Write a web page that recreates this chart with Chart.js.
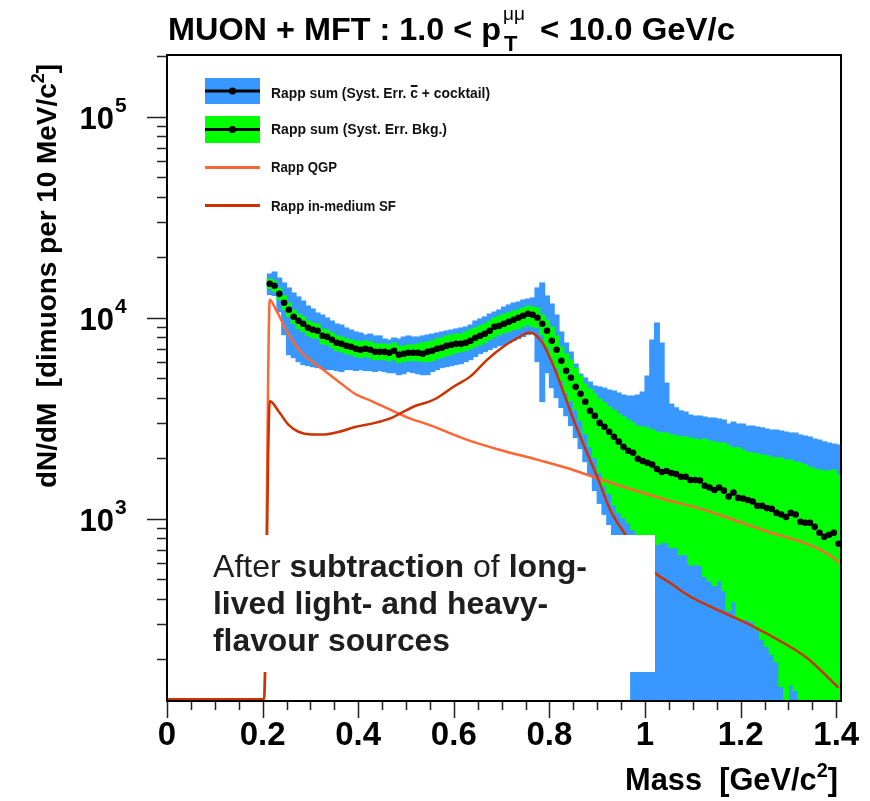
<!DOCTYPE html>
<html lang="en">
<head>
<meta charset="UTF-8">
<title>Dimuon mass spectrum - Rapp</title>
<script src="https://cdn.jsdelivr.net/npm/chart.js"></script>
<style>
  body { margin: 0; padding: 0; background: #fff; }
  #massChart { display: block; }
</style>
</head>
<body>
<canvas id="massChart" width="870" height="801"></canvas>
<script>
// histogram binning: 10 MeV/c^2 bins starting at 0.21 GeV/c^2
const binStart = 0.21;
const binWidth = 0.01;

// Rapp sum (black points), one value per bin
const rappSum = [
  14760, 14430, 13160, 11880, 10960, 10120, 9660, 9340, 8920, 8720,
  8620, 8140, 8040, 7770, 7510, 7420, 7250, 7170, 7010, 6930,
  7010, 6930, 6770, 6770, 6770, 6700, 6850, 6550, 6620, 6700,
  6700, 6700, 6620, 6770, 6850, 7010, 7090, 7250, 7340, 7420,
  7420, 7510, 7690, 7950, 8140, 8330, 8620, 9020, 9120, 9340,
  9550, 9770, 10000, 10230, 10470, 10350, 10000, 9340, 8620, 7690,
  6930, 6110, 5450, 5030, 4540, 4190, 3820, 3450, 3250, 3000,
  2870, 2710, 2560, 2420, 2280, 2180, 2130, 1990, 1940, 1900,
  1860, 1770, 1710, 1730, 1690, 1670, 1620, 1620, 1560, 1560,
  1550, 1460, 1430, 1390, 1430, 1380, 1290, 1350, 1270, 1260,
  1240, 1220, 1160, 1160, 1130, 1120, 1070, 1050, 1020, 1070,
  1050, 966, 955, 955, 912, 852, 814, 833, 852, 751
];

// syst. err. background (green band)
const bkgErrHigh = [
  15630, 15280, 14110, 12870, 11870, 10960, 10470, 10120, 9660, 9440,
  9340, 8820, 8715, 8420, 8140, 8040, 7860, 7771, 7680, 7600,
  7680, 7600, 7420, 7420, 7420, 7340, 7510, 7250, 7250, 7340,
  7340, 7420, 7510, 7600, 7680, 7860, 7950, 8140, 8230, 8320,
  8320, 8520, 8715, 8920, 9130, 9340, 9660, 10000, 10230, 10470,
  10590, 10840, 10960, 11210, 11470, 11340, 11210, 10350, 9774, 9020,
  8140, 7170, 6620, 6180, 5640, 5150, 4690, 4430, 4190, 3950,
  3780, 3610, 3485, 3330, 3220, 3108, 3000, 2900, 2870, 2840,
  2772, 2710, 2680, 2680, 2620, 2590, 2560, 2560, 2530, 2500,
  2472, 2500, 2440, 2420, 2390, 2390, 2310, 2260, 2260, 2204,
  2150, 2130, 2110, 2080, 2060, 2030, 2010, 2010, 1966, 1966,
  1920, 1900, 1860, 1810, 1770, 1753, 1730, 1730, 1753, 1660
];
const bkgErrLow = [
  13950, 13480, 12290, 10960, 10120, 9340, 8820, 8520, 8140, 7950,
  7860, 7420, 7340, 7090, 6850, 6770, 6620, 6540, 6400, 6320,
  6400, 6320, 6180, 6180, 6180, 6110, 6180, 5970, 6040, 6110,
  6110, 6110, 6040, 6040, 6110, 6250, 6320, 6470, 6540, 6700,
  6770, 6850, 7010, 7170, 7340, 7510, 7771, 8040, 8230, 8420,
  8520, 8715, 8820, 9020, 9230, 9020, 8920, 8230, 7170, 6250,
  5640, 4860, 4230, 3860, 3485, 3070, 2650, 2280, 2010, 1690,
  1460, 1330, 1170, 1070, 1010, 956, 882, 833, 805, 786,
  768, 742, 759, 759, 717, 717, 662, 662, 590, 590,
  584, 515, 491, 464, 491, 438, 349, 386, 314, 314,
  314, 307, 280, 250, 231, 211, 194, 146, 0, 149,
  139, 0, 0, 0, 0, 0, 0, 0, 0, 0
];

// syst. err. charm + cocktail (blue band)
const ccErrHigh = [
  16550, 16940, 15810, 14940, 14110, 13320, 12730, 12150, 11470, 11090,
  10590, 10350, 10000, 9660, 9340, 9230, 8920, 8715, 8520, 8420,
  8230, 8320, 8140, 8140, 7860, 7771, 7950, 7860, 8040, 8140,
  8040, 8040, 8140, 8230, 8320, 8420, 8520, 8620, 8715, 8820,
  8920, 9020, 9230, 9660, 9890, 10120, 10470, 10710, 10960, 11340,
  11610, 11870, 12010, 12290, 12430, 12580, 14110, 14940, 12870, 11740,
  10350, 8520, 7510, 6770, 5900, 5260, 5030, 4800, 4590, 4540,
  4480, 4382, 4330, 4230, 4140, 4090, 4090, 4140, 4280, 5150,
  7771, 9440, 7510, 4750, 3730, 3570, 3450, 3410, 3290, 3250,
  3250, 3220, 3180, 3180, 3140, 3108, 2970, 3040, 2970, 2970,
  2900, 2900, 2870, 2840, 2800, 2772, 2772, 2740, 2710, 2680,
  2680, 2620, 2590, 2560, 2500, 2472, 2420, 2390, 2360, 2330
];
const ccErrLow = [
  13020, 12870, 10710, 8230, 6540, 6320, 6040, 5840, 5770, 5700,
  5640, 5570, 5511, 5511, 5450, 5390, 5511, 5511, 5450, 5511,
  5450, 5450, 5390, 5450, 5390, 5320, 5320, 5200, 5260, 5390,
  5320, 5260, 5200, 5200, 5390, 5511, 5640, 5700, 5770, 5840,
  5900, 6040, 6180, 6400, 6620, 6770, 6930, 7090, 7250, 7340,
  7510, 7680, 7860, 8040, 8230, 8420, 6040, 3820, 5320, 4480,
  4000, 3570, 3250, 2900, 2530, 2230, 1920, 1640, 1380, 1190,
  1050, 934, 625, 443, 314, 223, 0, 0, 0, 0,
  0, 0, 0, 0, 0, 0, 0, 0, 0, 0,
  0, 0, 0, 0, 0, 0, 0, 0, 0, 0,
  0, 0, 0, 0, 0, 0, 0, 0, 0, 0,
  0, 0, 0, 0, 0, 0, 0, 0, 0, 0
];

// Rapp QGP curve
const qgpMass = [0, 0.203, 0.215, 0.226, 0.247, 0.261, 0.282, 0.3025, 0.3305, 0.358,
  0.393, 0.428, 0.470, 0.505, 0.547, 0.628, 0.697, 0.774, 0.837, 0.900,
  0.976, 1.046, 1.117, 1.185, 1.255, 1.325, 1.360, 1.395, 1.405];
const qgpYield = [0, 0, 12300, 11200, 8920, 7800, 6700, 6090, 5430, 4840,
  4190, 3850, 3460, 3180, 2940, 2470, 2200, 1970, 1790, 1590,
  1390, 1240, 1120, 989, 865, 771, 715, 637, 606];

// Rapp in-medium spectral function curve
const sfMass = [0, 0.203, 0.215, 0.233, 0.254, 0.275, 0.3025, 0.3305, 0.358, 0.393,
  0.435, 0.470, 0.491, 0.519, 0.547, 0.565, 0.600, 0.6345, 0.6695, 0.704,
  0.739, 0.7565, 0.7705, 0.788, 0.809, 0.830, 0.8505, 0.879, 0.900, 0.927,
  0.959, 0.990, 1.021, 1.053, 1.088, 1.1506, 1.2197, 1.290, 1.339, 1.381, 1.405];
const sfYield = [0, 0, 3850, 3440, 2940, 2710, 2630, 2630, 2700, 2860,
  3000, 3180, 3370, 3640, 3820, 3990, 4550, 5110, 6180, 7200,
  8070, 8450, 8230, 7340, 5720, 4220, 3110, 2120, 1620, 1110,
  833, 647, 537, 479, 419, 353, 297, 241, 203, 164, 144];

// axes
const xMin = 0, xMax = 1.41;
const yMin = 124, yMax = 203000;
const xTickLabels = ['0', '0.2', '0.4', '0.6', '0.8', '1', '1.2', '1.4'];
const xTickValues = [0, 0.2, 0.4, 0.6, 0.8, 1.0, 1.2, 1.4];
const yTickExponents = [3, 4, 5];

const BLUE = '#3898ff';
const GREEN = '#00ff00';
const QGP_COLOR = '#ff6633';
const SF_COLOR = '#cc3300';
const FONT = '"Liberation Sans", Arial, Helvetica, sans-serif';

const binMass = rappSum.map((_, i) => +(binStart + binWidth * (i + 0.5)).toFixed(3));
// zero / underflow values sit on the bottom of the frame, as in ROOT
const floorY = v => (v > 0 ? v : yMin);
const curveFloor = v => (v > 0 ? v : yMin * 1.02);

function bandData(lo, hi) {
  return binMass.map((m, i) => ({ x: m, y: [floorY(lo[i]), hi[i]] }));
}
function curveData(xs, ys) {
  return xs.map((m, i) => ({ x: m, y: curveFloor(ys[i]) }));
}

// draw a run of text segments, squeezed/stretched to a target width if given;
// returns the x start of every segment
function drawRich(ctx, segs, x, y, width) {
  let natural = 0;
  segs.forEach(s => { ctx.font = s.font; natural += ctx.measureText(s.text).width; });
  const sx = width ? width / natural : 1;
  const starts = [];
  ctx.save();
  ctx.translate(x, y);
  ctx.scale(sx, 1);
  let cx = 0;
  segs.forEach(s => {
    ctx.font = s.font;
    starts.push(x + cx * sx);
    ctx.fillText(s.text, cx, s.dy || 0);
    cx += ctx.measureText(s.text).width;
  });
  ctx.restore();
  starts.push(x + cx * sx);
  return starts;
}

// white text pave drawn over the data (like the TPaveText in the original)
const pavePlugin = {
  id: 'pave',
  afterDatasetsDraw(chart) {
    const ctx = chart.ctx;
    ctx.save();
    ctx.fillStyle = '#fff';
    ctx.fillRect(168, 535, 487, 137);
    ctx.fillStyle = '#1e1e1e';
    ctx.textBaseline = 'alphabetic';
    const R = '32px ' + FONT, B = 'bold 32px ' + FONT;
    drawRich(ctx, [{ text: 'After ', font: R }, { text: 'subtraction', font: B },
      { text: ' of ', font: R }, { text: 'long-', font: B }], 213, 577, 374);
    drawRich(ctx, [{ text: 'lived light- and heavy-', font: B }], 213, 614, 335);
    drawRich(ctx, [{ text: 'flavour sources', font: B }], 213, 651, 237);
    ctx.restore();
  }
};

// ROOT-like frame, ticks, labels, titles and legend
const framePlugin = {
  id: 'rootFrame',
  afterDraw(chart) {
    const { ctx, chartArea: a, scales: { x, y } } = chart;
    ctx.save();

    // ticks
    ctx.strokeStyle = '#222';
    ctx.lineWidth = 1.5;
    ctx.beginPath();
    for (let k = 0; k <= 28; k++) {
      const v = k * 0.05;
      const px = Math.round(x.getPixelForValue(v)) + 0.5;
      const len = (k % 4 === 0) ? 17 : 9;
      ctx.moveTo(px, a.bottom);
      ctx.lineTo(px, a.bottom + len);
    }
    [100, 1000, 10000, 100000].forEach(dec => {
      for (let m = 1; m <= 9; m++) {
        const v = dec * m;
        if (v < yMin || v > yMax) continue;
        const py = Math.round(y.getPixelForValue(v)) + 0.5;
        const len = (m === 1) ? 20 : 10;
        ctx.moveTo(a.left - len, py);
        ctx.lineTo(a.left, py);
      }
    });
    ctx.stroke();

    // frame
    ctx.strokeStyle = '#000';
    ctx.lineWidth = 2;
    ctx.strokeRect(a.left, a.top, a.right - a.left, a.bottom - a.top);

    // x tick labels
    ctx.fillStyle = '#000';
    ctx.textBaseline = 'alphabetic';
    ctx.textAlign = 'center';
    ctx.font = 'bold 33px ' + FONT;
    xTickValues.forEach((v, i) => {
      ctx.fillText(xTickLabels[i], x.getPixelForValue(v), 745);
    });

    // y tick labels 10^n
    yTickExponents.forEach(e => {
      const py = y.getPixelForValue(Math.pow(10, e));
      ctx.textAlign = 'right';
      ctx.font = 'bold 31px ' + FONT;
      ctx.fillText('10', 114, py + 12);
      ctx.textAlign = 'left';
      ctx.font = 'bold 21px ' + FONT;
      ctx.fillText(String(e), 115, py - 5);
    });

    // axis titles
    ctx.textAlign = 'left';
    const B31 = 'bold 31px ' + FONT, S20 = 'bold 20px ' + FONT;
    drawRich(ctx, [{ text: 'Mass  [GeV/c', font: B31 }, { text: '2', font: S20, dy: -13 },
      { text: ']', font: B31 }], 625, 790, 213);

    ctx.save();
    ctx.translate(56, 488);
    ctx.rotate(-Math.PI / 2);
    const B28 = 'bold 28px ' + FONT, S18 = 'bold 18px ' + FONT;
    drawRich(ctx, [{ text: 'dN/dM  [dimuons per 10 MeV/c', font: B28 },
      { text: '2', font: S18, dy: -12 }, { text: ']', font: B28 }], 0, 0, 424);
    ctx.restore();

    // title
    drawRich(ctx, [{ text: 'MUON + MFT : 1.0 < p', font: 'bold 31px ' + FONT }], 168, 40, 333);
    ctx.font = '19px ' + FONT;
    ctx.fillText('\u03bc\u03bc', 503, 20);
    ctx.font = 'bold 22px ' + FONT;
    ctx.fillText('T', 504, 51);
    drawRich(ctx, [{ text: '< 10.0 GeV/c', font: 'bold 31px ' + FONT }], 540, 40, 195);

    // legend
    const lx = 205, lw = 55;
    ctx.fillStyle = BLUE;
    ctx.fillRect(lx, 78, lw, 26);
    ctx.fillStyle = GREEN;
    ctx.fillRect(lx, 116, lw, 27);
    ctx.strokeStyle = '#000';
    ctx.lineWidth = 3;
    ctx.beginPath();
    ctx.moveTo(lx, 91); ctx.lineTo(lx + lw, 91);
    ctx.moveTo(lx, 129.5); ctx.lineTo(lx + lw, 129.5);
    ctx.stroke();
    ctx.fillStyle = '#000';
    [91, 129.5].forEach(py => {
      ctx.beginPath(); ctx.arc(lx + lw / 2, py, 3.6, 0, Math.PI * 2); ctx.fill();
    });
    ctx.lineWidth = 3;
    ctx.strokeStyle = QGP_COLOR;
    ctx.beginPath(); ctx.moveTo(lx, 167.5); ctx.lineTo(lx + lw, 167.5); ctx.stroke();
    ctx.strokeStyle = SF_COLOR;
    ctx.beginPath(); ctx.moveTo(lx, 205.5); ctx.lineTo(lx + lw, 205.5); ctx.stroke();

    ctx.fillStyle = '#111';
    const L = 'bold 14px ' + FONT;
    const pos = drawRich(ctx, [{ text: 'Rapp sum (Syst. Err. ', font: L }, { text: 'c', font: L },
      { text: ' + cocktail)', font: L }], 271, 97.5, 219);
    // bar over the c (anti-charm)
    ctx.fillRect(pos[1] + 0.5, 85, pos[2] - pos[1] - 1, 2);
    drawRich(ctx, [{ text: 'Rapp sum (Syst. Err. Bkg.)', font: L }], 271, 134, 176);
    drawRich(ctx, [{ text: 'Rapp QGP', font: L }], 271, 171.5, 66);
    drawRich(ctx, [{ text: 'Rapp in-medium SF', font: L }], 271, 210.5, 125);

    ctx.restore();
  }
};

const curveClip = { left: 0, top: 0, right: 0, bottom: 3 };

const ctx = document.getElementById('massChart').getContext('2d');
const massChart = new Chart(ctx, {
  type: 'bar',
  data: {
    datasets: [
      {
        type: 'line',
        label: 'Rapp sum',
        data: binMass.map((m, i) => ({ x: m, y: rappSum[i] })),
        showLine: false,
        pointRadius: 3.3,
        pointBackgroundColor: '#000',
        pointBorderWidth: 0,
        clip: 0,
        order: 0
      },
      {
        type: 'line',
        label: 'Rapp in-medium SF',
        data: curveData(sfMass, sfYield),
        borderColor: SF_COLOR,
        borderWidth: 2.5,
        pointRadius: 0,
        cubicInterpolationMode: 'monotone',
        clip: curveClip,
        order: 1
      },
      {
        type: 'line',
        label: 'Rapp QGP',
        data: curveData(qgpMass, qgpYield),
        borderColor: QGP_COLOR,
        borderWidth: 2.5,
        pointRadius: 0,
        cubicInterpolationMode: 'monotone',
        clip: curveClip,
        order: 2
      },
      {
        label: 'Rapp sum (Syst. Err. Bkg.)',
        data: bandData(bkgErrLow, bkgErrHigh),
        backgroundColor: GREEN,
        borderWidth: 0,
        barThickness: 5.3,
        grouped: false,
        clip: 0,
        order: 3
      },
      {
        label: 'Rapp sum (Syst. Err. cc + cocktail)',
        data: bandData(ccErrLow, ccErrHigh),
        backgroundColor: BLUE,
        borderWidth: 0,
        barThickness: 5.3,
        grouped: false,
        clip: 0,
        order: 4
      }
    ]
  },
  options: {
    responsive: false,
    animation: false,
    devicePixelRatio: 1,
    layout: { padding: { left: 167, right: 29, top: 55, bottom: 100 } },
    scales: {
      x: { type: 'linear', min: xMin, max: xMax, offset: false, display: false },
      y: { type: 'logarithmic', min: yMin, max: yMax, display: false }
    },
    plugins: {
      legend: { display: false },
      tooltip: { enabled: false }
    }
  },
  plugins: [pavePlugin, framePlugin]
});
</script>
</body>
</html>
